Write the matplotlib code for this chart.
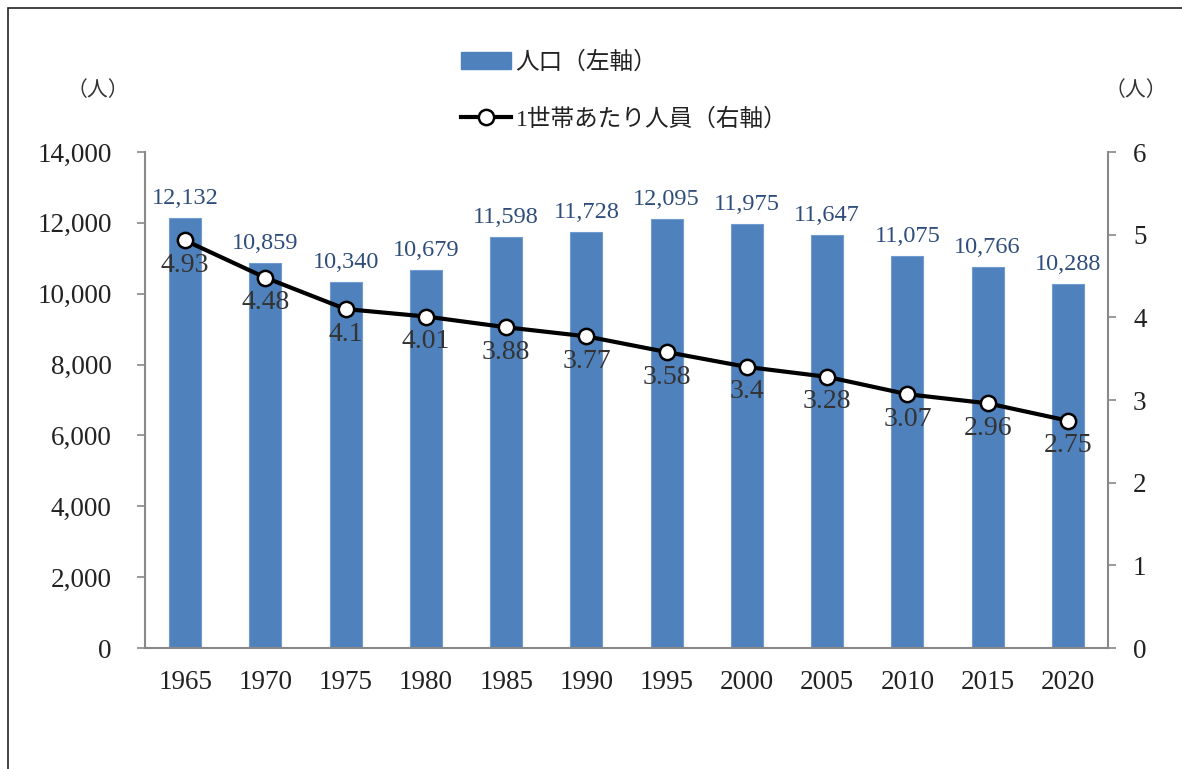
import matplotlib
matplotlib.use("Agg")
import matplotlib.pyplot as plt
from matplotlib.patches import Rectangle, Patch
from matplotlib.lines import Line2D

plt.rcParams['font.family'] = ['Liberation Serif', 'Noto Sans CJK JP', 'DejaVu Sans']

years = ['1965', '1970', '1975', '1980', '1985', '1990', '1995', '2000', '2005', '2010', '2015', '2020']
population = [12132, 10859, 10340, 10679, 11598, 11728, 12095, 11975, 11647, 11075, 10766, 10288]
per_household = [4.93, 4.48, 4.1, 4.01, 3.88, 3.77, 3.58, 3.4, 3.28, 3.07, 2.96, 2.75]
left_ticks = [0, 2000, 4000, 6000, 8000, 10000, 12000, 14000]
right_ticks = [0, 1, 2, 3, 4, 5, 6]
bar_label_name = '人口（左軸）'
line_label_name = '1世帯あたり人員（右軸）'
unit = '（人）'

W, H = 1182, 769
fig = plt.figure(figsize=(W / 100, H / 100), dpi=100)

# outer frame
fig.patches.append(Rectangle((8 / W, -0.1), 1.2, (H - 8) / H + 0.1, transform=fig.transFigure,
                             fill=False, edgecolor='#222222', linewidth=1.2))

ax = fig.add_axes([145 / W, 1 - 648 / H, (1108 - 145) / W, (648 - 152) / H])
ax2 = ax.twinx()

x = list(range(len(years)))
bar_color = '#4F81BD'
ax.bar(x, population, width=0.4, color=bar_color, edgecolor='#6F9BD1', linewidth=0.8, zorder=2)
ax.set_xlim(-0.5, len(years) - 0.5)
ax.set_ylim(0, 14000)
ax.set_yticks(left_ticks)
ax.set_yticklabels([f'{v:,}' for v in left_ticks], fontsize=19.5, color='#222222')
ax.set_xticks(x)
ax.set_xticklabels(years, fontsize=19.5, color='#222222')
ax.tick_params(axis='x', length=0, pad=16)
ax.tick_params(axis='y', direction='out', length=6, width=1.2, color='#888888', pad=18)

for xi, v in zip(x, population):
    ax.annotate(f'{v:,}', (xi, v), xytext=(0, 9), textcoords='offset pixels',
                ha='center', va='bottom', fontsize=17.5, color='#2E4D7B', zorder=5)

ax2.plot(x, per_household, color='black', linewidth=3, marker='o', markersize=11,
         markerfacecolor='white', markeredgecolor='black', markeredgewidth=1.8, zorder=4)
ax2.set_ylim(0, 6)
ax2.set_yticks(right_ticks)
ax2.set_yticklabels([str(v) for v in right_ticks], fontsize=19.5, color='#222222')
ax2.tick_params(axis='y', direction='out', length=6, width=1.2, color='#888888', pad=12)

for xi, v in zip(x, per_household):
    ax2.annotate(f'{v:g}', (xi, v), xytext=(0, -25), textcoords='offset pixels',
                 ha='center', va='center', fontsize=20, color='#333333', zorder=5)

for a in (ax, ax2):
    a.spines['top'].set_visible(False)
    for s in ('left', 'right', 'bottom'):
        a.spines[s].set_color('#888888')
        a.spines[s].set_linewidth(1.5)
ax.spines['right'].set_visible(False)
ax2.spines['left'].set_visible(False)
ax2.spines['bottom'].set_visible(False)

# legend
handles = [Patch(facecolor=bar_color, edgecolor=bar_color),
           Line2D([0], [0], color='black', linewidth=3, marker='o', markersize=11,
                  markerfacecolor='white', markeredgecolor='black', markeredgewidth=1.8)]
leg = fig.legend(handles, [bar_label_name, line_label_name], loc='upper left',
                 bbox_to_anchor=(440 / W, 1 - 30 / H), frameon=False,
                 labelspacing=1.45, handlelength=2.1, handletextpad=0.2,
                 prop={'family': ['Liberation Serif', 'Noto Sans CJK JP'], 'size': 17})
for t in leg.get_texts():
    t.set_color('#222222')

fig.text(98 / W, 1 - 90 / H, unit, ha='center', va='center', fontsize=15, color='#333333',
         family=['Noto Sans CJK JP'])
fig.text(1136 / W, 1 - 90 / H, unit, ha='center', va='center', fontsize=15, color='#333333',
         family=['Noto Sans CJK JP'])

fig.savefig('out.png', dpi=100)
